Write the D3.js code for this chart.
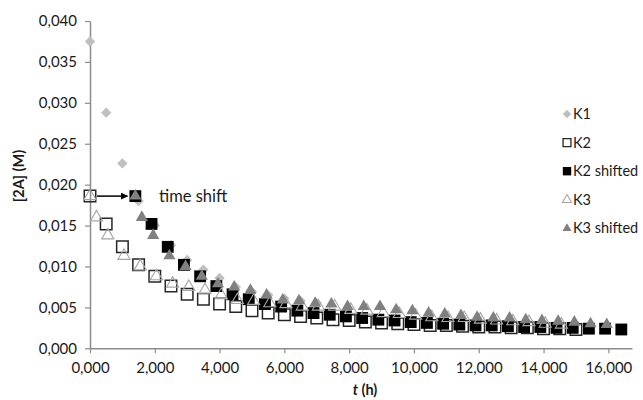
<!DOCTYPE html>
<html><head><meta charset="utf-8">
<script src="https://cdn.jsdelivr.net/npm/d3@7"></script>
<style>
html,body{margin:0;padding:0;background:#fff;}
svg{display:block;font-family:Lato,"Open Sans",sans-serif;}
</style></head>
<body><svg id="c" width="643" height="400"></svg>
<script>
// ---- data ----
const xTicks = [0,2000,4000,6000,8000,10000,12000,14000,16000];
const yTicks = [0,0.005,0.010,0.015,0.020,0.025,0.030,0.035,0.040];
const seriesNames = ["K1","K2","K2 shifted","K3","K3 shifted"];

const k1T = [0,500,1000,1500,2000,2500,3000,3500,4000,4500,5000,5500,6000,6500,7000];
const k1V = [0.0375,0.0288,0.0226,0.0180,0.0150,0.0126,0.0108,0.0096,0.0086,0.0075,0.0069,0.0065,0.0061,0.0058,0.0055];

const k2T = [0,500,1000,1500,2000,2500,3000,3500,4000,4500,5000,5500,6000,6500,7000,7500,8000,8500,9000,9500,10000,10500,11000,11500,12000,12500,13000,13500,14000,14500,15000];
const k2V = [0.0186,0.0152,0.0124,0.0102,0.0088,0.0076,0.0066,0.0060,0.0054,0.0051,0.0046,0.0043,0.0041,0.0039,0.0037,0.0035,0.0034,0.0032,0.0031,0.0030,0.0029,0.0028,0.0028,0.0027,0.0026,0.0026,0.0025,0.0025,0.0024,0.0024,0.0023];

const k2sT = [1400,1900,2400,2900,3400,3900,4400,4900,5400,5900,6400,6900,7400,7900,8400,8900,9400,9900,10400,10900,11400,11900,12400,12900,13400,13900,14400,14900,15400,15900,16400];
const k2sV = [0.0186,0.0152,0.0124,0.0102,0.0088,0.0076,0.0066,0.0060,0.0054,0.0051,0.0046,0.0043,0.0041,0.0039,0.0037,0.0035,0.0034,0.0032,0.0031,0.0030,0.0029,0.0028,0.0028,0.0027,0.0026,0.0026,0.0025,0.0025,0.0024,0.0024,0.0023];

const k3T = [0,200,550,1050,1550,2050,2550,3050,3550,4050,4550,5050,5550,6050,6550,7050,7550,8050,8550,9050,9550,10050,10550,11050,11550,12050,12550,13050,13550,14050,14550];
const k3V = [0.0186,0.0160,0.0138,0.0113,0.0100,0.0088,0.0079,0.0075,0.0071,0.0065,0.0059,0.0058,0.0055,0.0054,0.0051,0.0051,0.0051,0.0047,0.0046,0.0043,0.0042,0.0040,0.0038,0.0037,0.0037,0.0035,0.0034,0.0033,0.0032,0.0030,0.0029];

const k3sT = [1400,1600,1950,2450,2950,3450,3950,4450,4950,5450,5950,6450,6950,7450,7950,8450,8950,9450,9950,10450,10950,11450,11950,12450,12950,13450,13950,14450,14950,15450,15950];
const k3sV = [0.0186,0.0160,0.0138,0.0113,0.0100,0.0088,0.0079,0.0075,0.0071,0.0065,0.0059,0.0058,0.0055,0.0054,0.0051,0.0051,0.0051,0.0047,0.0046,0.0043,0.0042,0.0040,0.0038,0.0037,0.0037,0.0035,0.0034,0.0033,0.0032,0.0030,0.0029];

// ---- chart ----
const svg = d3.select("#c");
const x = d3.scaleLinear().domain([0,16730]).range([90,632]);
const y = d3.scaleLinear().domain([0,0.040]).range([348.3,21]);
const fmt = v => d3.format(".3f")(v).replace(".", ",");
const fmtX = v => d3.format(".3f")(v/1000).replace(".", ",");
const axisColor = "#8c8c8c";

// axes
const gy = svg.append("g").attr("transform","translate(90,0)")
  .call(d3.axisLeft(y).tickValues(yTicks).tickSize(5).tickSizeOuter(0).tickFormat(fmt));
const gx = svg.append("g").attr("transform","translate(0,348.3)")
  .call(d3.axisBottom(x).tickValues(xTicks).tickSize(5).tickSizeOuter(0).tickFormat(fmtX));
[gx,gy].forEach(g=>{
  g.select(".domain").attr("stroke",axisColor).attr("stroke-width",1.5);
  g.selectAll(".tick line").attr("stroke",axisColor).attr("stroke-width",1.2);
  g.selectAll(".tick text").attr("fill","#1a1a1a").style("font-size","15px").style("font-family","Lato,'Open Sans',sans-serif");
});
gy.selectAll(".tick text").attr("x",-13);
gx.selectAll(".tick text").attr("y",14);

// axis titles
svg.append("text").attr("transform","translate(24,176) rotate(-90)")
  .attr("text-anchor","middle").style("font-size","14.5px").style("font-weight","bold").attr("fill","#1a1a1a")
  .text("[2A] (M)");
const xt = svg.append("text").attr("x",365).attr("y",395).attr("text-anchor","middle")
  .style("font-size","14.5px").style("font-weight","bold").attr("fill","#1a1a1a");
xt.append("tspan").style("font-style","italic").text("t");
xt.append("tspan").text(" (h)");

// symbols
const sqBig = d3.symbol().type(d3.symbolSquare).size(132);
const sqFill = d3.symbol().type(d3.symbolSquare).size(140);
const triBig = d3.symbol().type(d3.symbolTriangle).size(64);
const diaBig = d3.symbol().type(d3.symbolSquare).size(54);

const styles = {
  "K1": {path: diaBig, rot: 45, fill:"#bfbfbf", stroke:"none", sw:0},
  "K2": {path: sqBig, rot: 0, fill:"none", stroke:"#262626", sw:1.5},
  "K2 shifted": {path: sqFill, rot: 0, fill:"#000", stroke:"none", sw:0},
  "K3": {path: triBig, rot: 0, fill:"none", stroke:"#a6a6a6", sw:1.1},
  "K3 shifted": {path: triBig, rot: 0, fill:"#808080", stroke:"none", sw:0}
};
const data = {
  "K1": d3.zip(k1T,k1V),
  "K2": d3.zip(k2T,k2V),
  "K2 shifted": d3.zip(k2sT,k2sV),
  "K3": d3.zip(k3T,k3V),
  "K3 shifted": d3.zip(k3sT,k3sV)
};
seriesNames.forEach(name=>{
  const s = styles[name];
  svg.append("g").selectAll("path").data(data[name]).join("path")
    .attr("d", s.path())
    .attr("transform", d=>`translate(${x(d[0])},${y(d[1])}) rotate(${s.rot})`)
    .attr("fill", s.fill).attr("stroke", s.stroke).attr("stroke-width", s.sw);
});

// time shift annotation
const defs = svg.append("defs");
defs.append("marker").attr("id","ah").attr("viewBox","0 0 10 10").attr("refX",9).attr("refY",5)
  .attr("markerWidth",7).attr("markerHeight",7).attr("orient","auto").attr("markerUnits","userSpaceOnUse")
  .append("path").attr("d","M0,0L10,5L0,10z").attr("fill","#000");
svg.append("line").attr("x1",x(0)+7).attr("x2",x(1400)-8).attr("y1",y(0.0186)).attr("y2",y(0.0186))
  .attr("stroke","#000").attr("stroke-width",1.5).attr("marker-end","url(#ah)");
svg.append("text").attr("x",159).attr("y",y(0.0186)+5.5).style("font-size","16.5px").attr("fill","#1a1a1a").text("time shift");

// legend
const legSyms = {
  "K1": d3.symbol().type(d3.symbolSquare).size(36),
  "K2": d3.symbol().type(d3.symbolSquare).size(62),
  "K2 shifted": d3.symbol().type(d3.symbolSquare).size(70),
  "K3": d3.symbol().type(d3.symbolTriangle).size(36),
  "K3 shifted": d3.symbol().type(d3.symbolTriangle).size(36)
};
const leg = svg.append("g");
seriesNames.forEach((name,i)=>{
  const s = styles[name];
  const yy = 114 + i*28.6;
  leg.append("path").attr("d", legSyms[name]())
    .attr("transform",`translate(567,${yy}) rotate(${s.rot})`)
    .attr("fill", s.fill).attr("stroke", s.stroke).attr("stroke-width", name==="K2"?1.3:s.sw);
  leg.append("text").attr("x",573).attr("y",yy+5).style("font-size","14.5px").attr("fill","#1a1a1a").text(name);
});
</script></body></html>
